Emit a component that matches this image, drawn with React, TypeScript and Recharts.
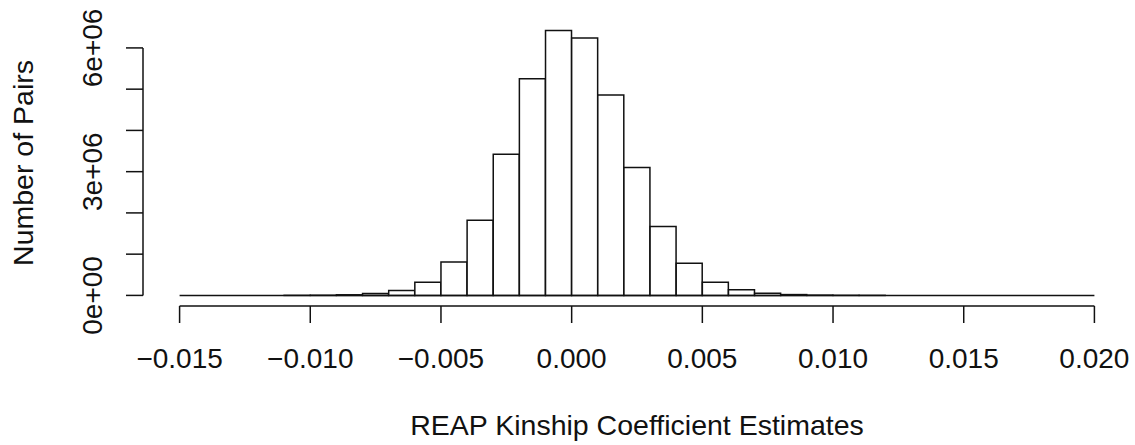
import React from 'react';
import { ComposedChart, XAxis, YAxis, Bar, ReferenceLine, Label } from 'recharts';

// histogram bins (left edges), width 0.001
const binStarts = [
  -0.015, -0.014, -0.013, -0.012, -0.011, -0.010, -0.009, -0.008, -0.007, -0.006,
  -0.005, -0.004, -0.003, -0.002, -0.001, 0.000, 0.001, 0.002, 0.003, 0.004,
  0.005, 0.006, 0.007, 0.008, 0.009, 0.010, 0.011, 0.012, 0.013, 0.014,
  0.015, 0.016, 0.017, 0.018, 0.019,
];
const binWidth = 0.001;

const pairCounts = [
  0, 0, 0, 0, 1000, 4000, 15000, 45000, 120000, 320000,
  810000, 1820000, 3420000, 5250000, 6420000, 6240000, 4860000, 3100000, 1670000, 780000,
  320000, 140000, 55000, 20000, 7000, 2000, 500, 0, 0, 0,
  0, 0, 0, 0, 0,
];

const xTicks = [-0.015, -0.01, -0.005, 0, 0.005, 0.01, 0.015, 0.02];
const yTicks = [0, 1e6, 2e6, 3e6, 4e6, 5e6, 6e6];
const yLabelled = [0, 3e6, 6e6];

const FONT = 'Liberation Sans';
const FS = 28;
const FS_TITLE = 28.5;
const INK = '#111';

const fmtX = (v: number) => (v < 0 ? '\u2212' : '') + Math.abs(v).toFixed(3);
const fmtY = (v: number) => {
  if (v === 0) return '0e+00';
  const exp = Math.floor(Math.log10(v));
  const m = Math.round(v / Math.pow(10, exp));
  return `${m}e+${String(exp).padStart(2, '0')}`;
};

const XTick = (props: any) => {
  const { x, y, payload } = props;
  return (
    <text x={x} y={y + 43} textAnchor="middle" fontFamily={FONT} fontSize={FS} fill={INK}>
      {fmtX(payload.value)}
    </text>
  );
};

const YTick = (props: any) => {
  const { x, y, payload } = props;
  if (!yLabelled.includes(payload.value)) return null;
  const bx = x - 22;
  return (
    <text x={bx} y={y} transform={`rotate(-90, ${bx}, ${y})`} textAnchor="middle"
      fontFamily={FONT} fontSize={FS} fill={INK}>
      {fmtY(payload.value)}
    </text>
  );
};

const App = () => {
  const width = 1135;
  const height = 445;
  const margin = { top: 20, right: 4, bottom: 0, left: 0 };
  const yAxisWidth = 143;
  const xAxisHeight = 139;
  const plotWidth = width - margin.left - margin.right - yAxisWidth;

  const xMin = binStarts[0];
  const xMax = binStarts[binStarts.length - 1] + binWidth;
  const xExt = 0.04 * (xMax - xMin);
  const xDomain = [xMin - xExt, xMax + xExt];
  const padX = (plotWidth * xExt) / (xMax - xMin + 2 * xExt);

  const yMax = Math.max(...pairCounts);
  const yDomain = [-0.04 * yMax, 1.04 * yMax];

  const rows = binStarts.map((b, i) => ({ bin: b, count: pairCounts[i] }));
  const line = { stroke: INK, strokeWidth: 1.5 };

  return (
    <div style={{ position: 'absolute', left: 0, top: 0, background: '#fff' }}>
      <ComposedChart width={width} height={height} data={rows} margin={margin}
        barCategoryGap={0} barGap={0}>
        <XAxis xAxisId="num" dataKey="bin" type="number" domain={xDomain} allowDataOverflow
          ticks={xTicks} interval={0} height={xAxisHeight} axisLine={false}
          tickLine={line} tickSize={17} tick={<XTick />}>
          <Label position="insideBottom" content={(p: any) => {
            const vb = p.viewBox || {};
            return (
              <text x={vb.x + vb.width / 2} y={vb.y + vb.height - 10} textAnchor="middle"
                fontFamily={FONT} fontSize={FS_TITLE} fill={INK}>
                REAP Kinship Coefficient Estimates
              </text>
            );
          }} />
        </XAxis>
        <XAxis xAxisId="bins" dataKey="bin" type="category" hide height={0}
          padding={{ left: padX, right: padX }} />
        <YAxis width={yAxisWidth} type="number" domain={yDomain} allowDataOverflow
          ticks={yTicks} interval={0} axisLine={false} tickLine={line} tickSize={17}
          tick={<YTick />}>
          <Label position="insideLeft" content={(p: any) => {
            const vb = p.viewBox || {};
            const cx = 33;
            const cy = vb.y + vb.height / 2;
            return (
              <text x={cx} y={cy} transform={`rotate(-90, ${cx}, ${cy})`} textAnchor="middle"
                fontFamily={FONT} fontSize={FS_TITLE} fill={INK}>
                Number of Pairs
              </text>
            );
          }} />
        </YAxis>
        <Bar xAxisId="bins" dataKey="count" fill="#fff" stroke={INK} strokeWidth={1.5}
          isAnimationActive={false} />
        <ReferenceLine xAxisId="num" ifOverflow="visible"
          segment={[{ x: xMin, y: 0 }, { x: xMax, y: 0 }]} {...line} />
        <ReferenceLine xAxisId="num" ifOverflow="visible"
          segment={[{ x: xMin, y: yDomain[0] }, { x: xMax, y: yDomain[0] }]} {...line} />
        <ReferenceLine xAxisId="num" ifOverflow="visible"
          segment={[{ x: xDomain[0], y: 0 }, { x: xDomain[0], y: yTicks[yTicks.length - 1] }]} {...line} />
      </ComposedChart>
    </div>
  );
};

export default App;
